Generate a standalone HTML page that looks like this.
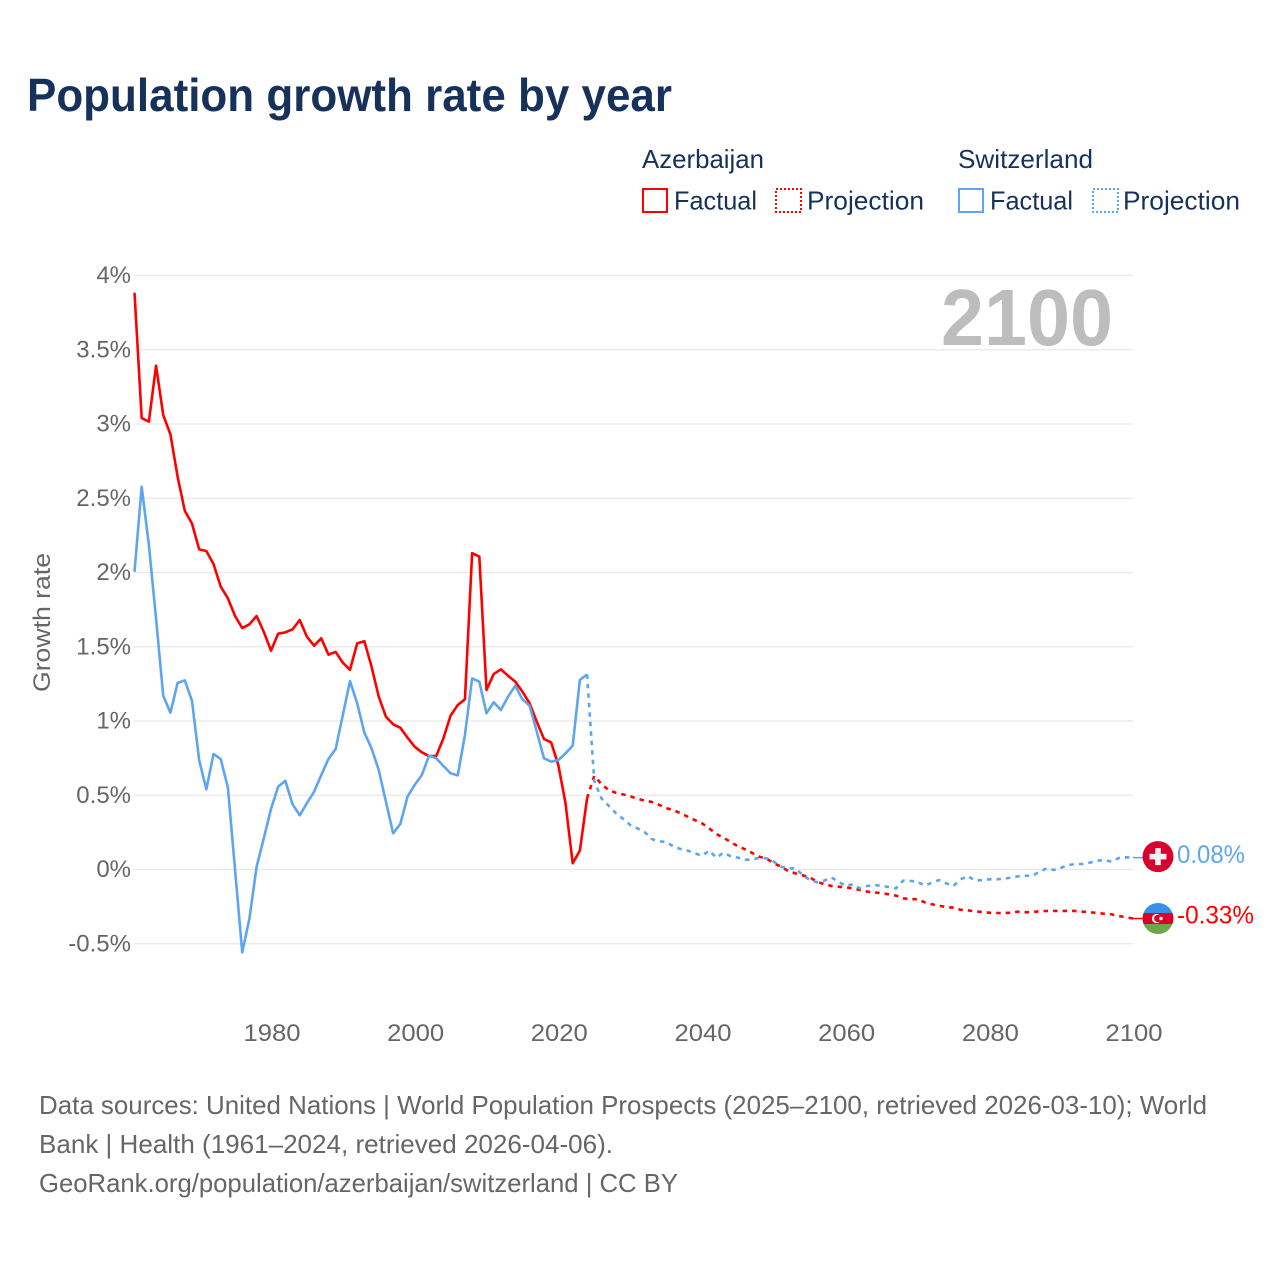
<!DOCTYPE html>
<html lang="en">
<head>
<meta charset="utf-8">
<title>Population growth rate by year</title>
<style>
html,body{margin:0;padding:0;background:#fff;}
svg{display:block;}
text{font-family:"Liberation Sans",sans-serif;}
</style>
</head>
<body>
<svg id="chart" xmlns="http://www.w3.org/2000/svg" width="1280" height="1280" viewBox="0 0 1280 1280">
  <rect x="0" y="0" width="1280" height="1280" fill="#ffffff"/>
  <text x="27" y="111" font-size="46" font-weight="700" fill="#17325a" textLength="645" lengthAdjust="spacingAndGlyphs">Population growth rate by year</text>

  <g font-size="26" fill="#17325a">
    <text x="642" y="168" textLength="122" lengthAdjust="spacingAndGlyphs">Azerbaijan</text>
    <text x="958" y="168" textLength="135" lengthAdjust="spacingAndGlyphs">Switzerland</text>
    <rect x="643" y="189" width="24" height="23" fill="none" stroke="#ff0000" stroke-width="2"/>
    <text x="674" y="209.5" textLength="83" lengthAdjust="spacingAndGlyphs">Factual</text>
    <rect x="776" y="189" width="25" height="23" fill="none" stroke="#ff0000" stroke-width="2" stroke-dasharray="2 2"/>
    <text x="807" y="209.5" textLength="117" lengthAdjust="spacingAndGlyphs">Projection</text>
    <rect x="959" y="189" width="24" height="23" fill="none" stroke="#5ea5f0" stroke-width="2"/>
    <text x="990" y="209.5" textLength="83" lengthAdjust="spacingAndGlyphs">Factual</text>
    <rect x="1093" y="189" width="25" height="23" fill="none" stroke="#5ea5f0" stroke-width="2" stroke-dasharray="2 2"/>
    <text x="1123" y="209.5" textLength="117" lengthAdjust="spacingAndGlyphs">Projection</text>
  </g>

  <g id="grid"></g>
  <g id="yticks" font-size="24" fill="#666666" text-anchor="end"></g>
  <g id="xticks" font-size="24" fill="#666666" text-anchor="middle"></g>
  <text transform="translate(50,622.5) rotate(-90)" font-size="24" fill="#666666" text-anchor="middle" textLength="139" lengthAdjust="spacingAndGlyphs">Growth rate</text>
  <text x="941" y="345" font-size="80" font-weight="700" fill="#bdbdbd" textLength="172" lengthAdjust="spacingAndGlyphs">2100</text>

  <g id="series"></g>
  <g id="ends"></g>

  <g font-size="26" fill="#666666">
    <text x="39" y="1114" textLength="1168" lengthAdjust="spacingAndGlyphs">Data sources: United Nations | World Population Prospects (2025–2100, retrieved 2026-03-10); World</text>
    <text x="39" y="1153" textLength="574" lengthAdjust="spacingAndGlyphs">Bank | Health (1961–2024, retrieved 2026-04-06).</text>
    <text x="39" y="1192" textLength="639" lengthAdjust="spacingAndGlyphs">GeoRank.org/population/azerbaijan/switzerland | CC BY</text>
  </g>
</svg>
<script>
const yTickValues = [4, 3.5, 3, 2.5, 2, 1.5, 1, 0.5, 0, -0.5];
const xTickYears = [1980, 2000, 2020, 2040, 2060, 2080, 2100];
const factualStartYear = 1961;
const projectionStartYear = 2025;

const azerbaijanFactual = [3.884,3.04,3.016,3.393,3.06,2.93,2.645,2.416,2.33,2.156,2.145,2.057,1.905,1.826,1.707,1.626,1.651,1.707,1.6,1.474,1.588,1.597,1.617,1.68,1.568,1.507,1.557,1.447,1.465,1.393,1.345,1.523,1.537,1.366,1.164,1.029,0.978,0.955,0.888,0.827,0.789,0.764,0.764,0.883,1.036,1.108,1.146,2.13,2.107,1.209,1.316,1.348,1.305,1.265,1.198,1.119,0.995,0.879,0.856,0.704,0.446,0.042,0.127,0.479];
const azerbaijanProjection = [0.63,0.576,0.535,0.517,0.506,0.493,0.477,0.463,0.455,0.436,0.414,0.399,0.38,0.356,0.333,0.311,0.277,0.239,0.214,0.185,0.156,0.136,0.111,0.086,0.073,0.042,0.019,-0.01,-0.026,-0.039,-0.053,-0.082,-0.098,-0.111,-0.116,-0.12,-0.127,-0.138,-0.149,-0.154,-0.16,-0.167,-0.176,-0.194,-0.2,-0.2,-0.221,-0.234,-0.244,-0.253,-0.257,-0.271,-0.275,-0.282,-0.286,-0.291,-0.293,-0.293,-0.291,-0.284,-0.288,-0.286,-0.282,-0.279,-0.279,-0.279,-0.279,-0.279,-0.284,-0.288,-0.293,-0.298,-0.302,-0.313,-0.322,-0.33];
const switzerlandFactual = [2.005,2.578,2.185,1.69,1.17,1.056,1.256,1.274,1.137,0.737,0.54,0.778,0.744,0.553,-0.003,-0.558,-0.329,0.019,0.21,0.407,0.558,0.598,0.439,0.365,0.446,0.524,0.636,0.744,0.811,1.04,1.269,1.119,0.921,0.816,0.67,0.457,0.244,0.306,0.49,0.569,0.636,0.766,0.749,0.697,0.648,0.634,0.906,1.287,1.265,1.052,1.126,1.074,1.164,1.238,1.146,1.103,0.928,0.749,0.726,0.737,0.782,0.834,1.276,1.314];
const switzerlandProjection = [0.598,0.479,0.43,0.38,0.342,0.3,0.277,0.253,0.205,0.19,0.185,0.156,0.138,0.127,0.109,0.093,0.127,0.08,0.113,0.089,0.08,0.066,0.066,0.08,0.075,0.053,0.019,0.008,0.008,-0.037,-0.071,-0.086,-0.075,-0.053,-0.082,-0.11,-0.1,-0.127,-0.111,-0.104,-0.111,-0.118,-0.127,-0.075,-0.077,-0.082,-0.109,-0.089,-0.071,-0.093,-0.111,-0.066,-0.044,-0.075,-0.071,-0.066,-0.066,-0.062,-0.055,-0.046,-0.042,-0.042,-0.015,0.008,-0.003,0.012,0.03,0.037,0.037,0.046,0.059,0.064,0.053,0.077,0.082,0.08];

const RED = '#ff0000';
const BLUE = '#5ea5f0';
const SVGNS = 'http://www.w3.org/2000/svg';

function xScale(year) { return 134.5 + (year - 1961) * (998.5 / 139); }
function yScale(value) { return 869.5 - value * 148.5; }
function make(parent, tag, attrs) {
  const el = document.createElementNS(SVGNS, tag);
  for (const k in attrs) el.setAttribute(k, attrs[k]);
  parent.appendChild(el);
  return el;
}
function pointsFrom(startYear, values, prefix) {
  const pts = prefix ? prefix.slice() : [];
  values.forEach(function (v, i) {
    pts.push(xScale(startYear + i).toFixed(2) + ',' + yScale(v).toFixed(2));
  });
  return pts.join(' ');
}

const gridGroup = document.getElementById('grid');
const yTickGroup = document.getElementById('yticks');
yTickValues.forEach(function (v) {
  const line = make(gridGroup, 'line', { x1: 134, x2: 1133, y1: yScale(v), y2: yScale(v), stroke: '#e8e8e8', 'stroke-width': 1.2 });
  
  
  const label = make(yTickGroup, 'text', { x: 131, y: yScale(v) + 7.5 });
  label.textContent = v + '%';
  
  
});

const xTickGroup = document.getElementById('xticks');
xTickYears.forEach(function (year) {
  const label = make(xTickGroup, 'text', { x: xScale(year) + 1, y: 1041, textLength: 57, lengthAdjust: 'spacingAndGlyphs' });
  label.textContent = year;
  
  
});

const seriesGroup = document.getElementById('series');
function drawSeries(name, color, factual, projection) {
  const solid = make(seriesGroup, 'polyline', {
    points: pointsFrom(factualStartYear, factual),
    fill: 'none', stroke: color, 'stroke-width': 2.6, 'stroke-linejoin': 'round'
  });
  
  
  const lastYear = factualStartYear + factual.length - 1;
  const joint = xScale(lastYear).toFixed(2) + ',' + yScale(factual[factual.length - 1]).toFixed(2);
  const dashed = make(seriesGroup, 'polyline', {
    points: pointsFrom(projectionStartYear, projection, [joint]),
    fill: 'none', stroke: color, 'stroke-width': 2.6, 'stroke-dasharray': '4.5 5', 'stroke-linejoin': 'round'
  });
  
  
}
drawSeries('azerbaijan', RED, azerbaijanFactual, azerbaijanProjection);
drawSeries('switzerland', BLUE, switzerlandFactual, switzerlandProjection);

const endGroup = document.getElementById('ends');
const flagX = 1158;
const flagR = 15.5;
const endYear = 2100;

const azEndY = yScale(azerbaijanProjection[azerbaijanProjection.length - 1]);
const chEndY = yScale(switzerlandProjection[switzerlandProjection.length - 1]);

const azConnector = make(endGroup, 'line', { x1: xScale(endYear), x2: flagX, y1: azEndY, y2: azEndY, stroke: RED, 'stroke-width': 1.5 });


const chConnector = make(endGroup, 'line', { x1: xScale(endYear), x2: flagX, y1: chEndY, y2: chEndY, stroke: BLUE, 'stroke-width': 1.5 });



const defs = make(endGroup, 'defs', {});
const clip = make(defs, 'clipPath', { id: 'azClip' });
make(clip, 'circle', { cx: flagX, cy: azEndY, r: flagR });

const chFlag = make(endGroup, 'g', {});


make(chFlag, 'circle', { cx: flagX, cy: chEndY - 1, r: flagR, fill: '#d8002f' });
make(chFlag, 'rect', { x: flagX - 8.5, y: chEndY - 3.8, width: 17, height: 5.6, fill: '#f2f2f2' });
make(chFlag, 'rect', { x: flagX - 2.8, y: chEndY - 9.5, width: 5.6, height: 17, fill: '#f2f2f2' });

const azFlag = make(endGroup, 'g', { 'clip-path': 'url(#azClip)' });


make(azFlag, 'rect', { x: flagX - 16, y: azEndY - 16, width: 32, height: 11, fill: '#3a8fe8' });
make(azFlag, 'rect', { x: flagX - 16, y: azEndY - 5.5, width: 32, height: 11, fill: '#d9002c' });
make(azFlag, 'rect', { x: flagX - 16, y: azEndY + 5.5, width: 32, height: 11, fill: '#6fa64a' });
make(azFlag, 'circle', { cx: flagX - 1.5, cy: azEndY, r: 4.6, fill: '#ffffff' });
make(azFlag, 'circle', { cx: flagX - 0.2, cy: azEndY, r: 3.7, fill: '#d9002c' });
make(azFlag, 'circle', { cx: flagX + 3, cy: azEndY, r: 1.7, fill: '#ffffff' });

const chValue = make(endGroup, 'text', { x: 1177, y: chEndY + 5.5, 'font-size': 25, fill: BLUE, textLength: 68, lengthAdjust: 'spacingAndGlyphs' });
chValue.textContent = switzerlandProjection[switzerlandProjection.length - 1].toFixed(2) + '%';


const azValue = make(endGroup, 'text', { x: 1177, y: azEndY + 5, 'font-size': 25, fill: RED, textLength: 77, lengthAdjust: 'spacingAndGlyphs' });
azValue.textContent = azerbaijanProjection[azerbaijanProjection.length - 1].toFixed(2) + '%';


</script>
</body>
</html>
